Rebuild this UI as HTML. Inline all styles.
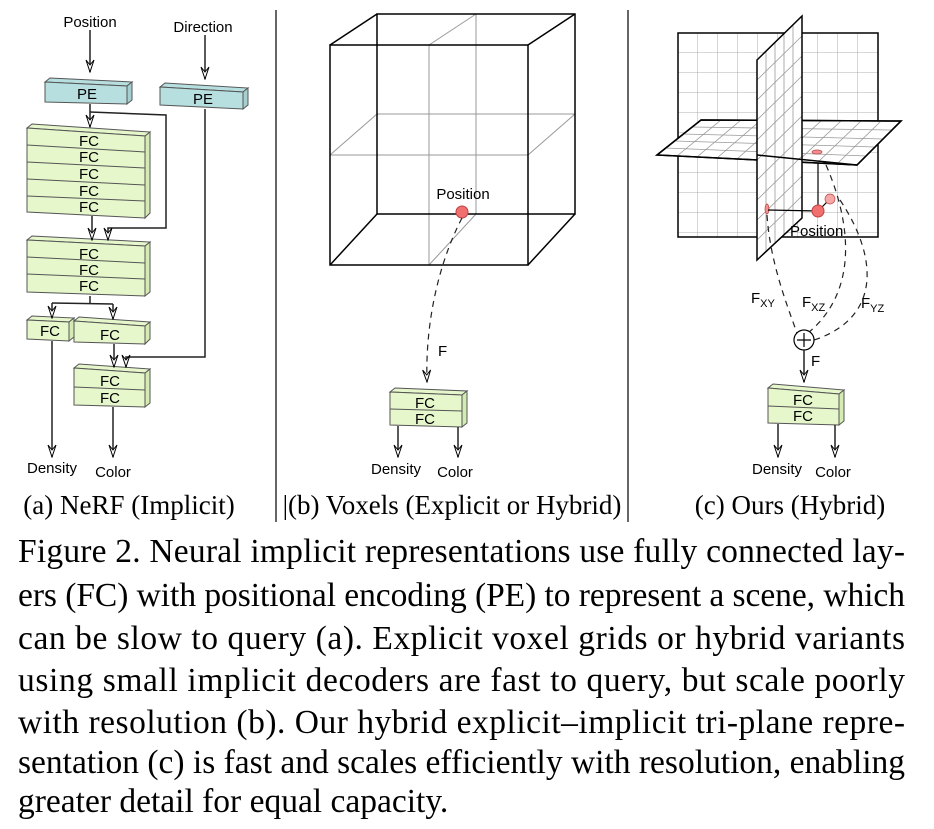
<!DOCTYPE html>
<html><head><meta charset="utf-8"><style>
html,body{margin:0;padding:0;background:#fff;}
svg{display:block;}
text{font-family:"Liberation Sans",sans-serif;}
.s{font-family:"Liberation Serif",serif;}
</style></head><body>
<svg width="934" height="829" viewBox="0 0 934 829" xmlns="http://www.w3.org/2000/svg">
<defs>
<marker id="ar" markerWidth="14" markerHeight="10" refX="13" refY="5" orient="auto" markerUnits="userSpaceOnUse">
<path d="M1,1 L13,5 L1,9 L6,5 Z" fill="#fff" stroke="#000" stroke-width="1"/>
</marker>
<pattern id="g" width="20" height="20" patternUnits="userSpaceOnUse" x="678" y="33">
<path d="M20,0 V20 M0,20 H20" stroke="#999" stroke-width="0.8" fill="none"/>
</pattern>
</defs>
<g fill="none" stroke="#000" stroke-width="1.5">
<line x1="276" y1="10" x2="276" y2="522" stroke-width="1.2"/>
<line x1="628" y1="10" x2="628" y2="522" stroke-width="1.2"/>
</g>

<!-- ===== Panel (a) ===== -->
<g stroke="#555" stroke-width="1">
<polygon points="45,82 50,78 132,82 127,86" fill="#b8dfe0"/>
<polygon points="127,86 132,82 132,100 127,104" fill="#a6cfd0"/>
<polygon points="45,82 127,86 127,104 45,102" fill="#b8dfe0"/>
<polygon points="160,87 165,83 248,88 243,92" fill="#b8dfe0"/>
<polygon points="243,92 248,88 248,105 243,109" fill="#a6cfd0"/>
<polygon points="160,87 243,92 243,109 160,105" fill="#b8dfe0"/>
<polygon points="27,128 32,124 150,132 145,136" fill="#e6f7cc"/>
<polygon points="145,136 150,132 150,213 145,218" fill="#d4ebb4"/>
<polygon points="27,128 145,136 145,218 27,212" fill="#e6f7cc"/>
<path d="M27,145 L145,152 M27,162 L145,168 M27,179 L145,185 M27,196 L145,201" />
<polygon points="27,240 32,236 150,242 145,246" fill="#e6f7cc"/>
<polygon points="145,246 150,242 150,292 145,296" fill="#d4ebb4"/>
<polygon points="27,240 145,246 145,296 27,292" fill="#e6f7cc"/>
<path d="M27,257 L145,263 M27,274 L145,279"/>
<polygon points="27,320 32,316 74,318 69,322" fill="#e6f7cc"/>
<polygon points="69,322 74,318 74,337 69,341" fill="#d4ebb4"/>
<polygon points="27,320 69,322 69,341 27,339" fill="#e6f7cc"/>
<polygon points="74,321 79,317 150,322 145,326" fill="#e6f7cc"/>
<polygon points="145,326 150,322 150,339 145,344" fill="#d4ebb4"/>
<polygon points="74,321 145,326 145,344 74,342" fill="#e6f7cc"/>
<polygon points="74,368 79,364 150,369 145,373" fill="#e6f7cc"/>
<polygon points="145,373 150,369 150,403 145,407" fill="#d4ebb4"/>
<polygon points="74,368 145,373 145,407 74,405" fill="#e6f7cc"/>
<path d="M74,387 L145,390"/>
</g>
<g font-size="15" text-anchor="middle" fill="#000">
<text x="87" y="99">PE</text>
<text x="203" y="104">PE</text>
<text x="89" y="146">FC</text><text x="89" y="162">FC</text><text x="89" y="179">FC</text><text x="89" y="196">FC</text><text x="89" y="212">FC</text>
<text x="89" y="259">FC</text><text x="89" y="275">FC</text><text x="89" y="291">FC</text>
<text x="50" y="336">FC</text><text x="110" y="340">FC</text>
<text x="110" y="386">FC</text><text x="110" y="403">FC</text>
<text x="90" y="27">Position</text>
<text x="203" y="32">Direction</text>
<text x="52" y="473">Density</text>
<text x="113" y="477">Color</text>
</g>
<g fill="none" stroke="#222" stroke-width="1.5">
<line x1="90" y1="30" x2="90" y2="72" marker-end="url(#ar)"/>
<line x1="205" y1="35" x2="205" y2="79" marker-end="url(#ar)"/>
<line x1="90" y1="104" x2="90" y2="127" marker-end="url(#ar)"/>
<polyline points="90,112 166,115 166,228 108,228 108,240" marker-end="url(#ar)"/>
<line x1="92" y1="216" x2="92" y2="240" marker-end="url(#ar)"/>
<polyline points="90,296 90,303"/>
<polyline points="52,303 113,304"/>
<line x1="52" y1="303" x2="52" y2="318" marker-end="url(#ar)"/>
<line x1="113" y1="304" x2="113" y2="319" marker-end="url(#ar)"/>
<line x1="52" y1="341" x2="52" y2="457" marker-end="url(#ar)"/>
<line x1="114" y1="344" x2="114" y2="367" marker-end="url(#ar)"/>
<polyline points="205,109 205,357 126,357 126,367" marker-end="url(#ar)"/>
<line x1="113" y1="407" x2="113" y2="457" marker-end="url(#ar)"/>
</g>

<!-- ===== Panel (b) ===== -->
<g fill="none" stroke="#999" stroke-width="1">
<line x1="429" y1="45" x2="429" y2="265"/><line x1="330" y1="155" x2="528" y2="155"/>
<line x1="476" y1="14" x2="476" y2="214"/><line x1="377" y1="114" x2="575" y2="114"/>
<line x1="429" y1="45" x2="476" y2="14"/><line x1="429" y1="265" x2="476" y2="214"/>
<line x1="330" y1="155" x2="377" y2="114"/><line x1="528" y1="155" x2="575" y2="114"/>
</g>
<g fill="none" stroke="#000" stroke-width="1.5">
<rect x="377" y="14" width="198" height="200"/>
<rect x="330" y="45" width="198" height="220"/>
<line x1="330" y1="45" x2="377" y2="14"/><line x1="528" y1="45" x2="575" y2="14"/>
<line x1="330" y1="265" x2="377" y2="214"/><line x1="528" y1="265" x2="575" y2="214"/>
</g>
<circle cx="462" cy="212" r="6" fill="#f07070" stroke="#c04040"/>
<text x="463" y="199" font-size="15" text-anchor="middle">Position</text>
<path d="M462,218 C440,260 425,320 427,382" fill="none" stroke="#222" stroke-width="1.2" stroke-dasharray="6,5" marker-end="url(#ar)"/>
<text x="438" y="356" font-size="15">F</text>
<g stroke="#555" stroke-width="1">
<polygon points="390,392 395,388 467,391 462,395" fill="#e6f7cc"/>
<polygon points="462,395 467,391 467,423 462,427" fill="#d4ebb4"/>
<polygon points="390,392 462,395 462,427 390,425" fill="#e6f7cc"/>
<path d="M390,409 L462,411"/>
</g>
<g font-size="15" text-anchor="middle"><text x="425" y="408">FC</text><text x="425" y="424">FC</text>
<text x="396" y="474">Density</text><text x="455" y="477">Color</text></g>
<g stroke="#222" stroke-width="1.5"><line x1="398" y1="426" x2="398" y2="457" marker-end="url(#ar)"/><line x1="458" y1="427" x2="458" y2="457" marker-end="url(#ar)"/></g>

<!-- ===== Panel (c) ===== -->
<rect x="678" y="33" width="200" height="204" fill="url(#g)" stroke="#000" stroke-width="1.5"/>
<polygon points="657,155 701,120 901,121 857,165" fill="#fff" stroke="#000" stroke-width="1.5"/>
<g stroke="#999" stroke-width="0.8">
<line x1="677" y1="156" x2="721" y2="120"/><line x1="697" y1="157" x2="741" y2="120"/><line x1="717" y1="158" x2="761" y2="120"/><line x1="737" y1="159" x2="781" y2="120"/><line x1="757" y1="160" x2="801" y2="120"/><line x1="777" y1="161" x2="821" y2="121"/><line x1="797" y1="162" x2="841" y2="121"/><line x1="817" y1="163" x2="861" y2="121"/><line x1="837" y1="164" x2="881" y2="121"/>
<line x1="666" y1="148" x2="866" y2="156"/><line x1="675" y1="141" x2="875" y2="147"/><line x1="683" y1="134" x2="883" y2="139"/><line x1="692" y1="127" x2="892" y2="130"/>
</g>
<polygon points="657,155 701,120 901,121 857,165" fill="none" stroke="#000" stroke-width="1.5"/>
<polygon points="757,60 802,16 802,218 757,260" fill="#fff"/>
<g stroke="#999" stroke-width="0.8">
<line x1="766" y1="51" x2="766" y2="252"/><line x1="775" y1="42" x2="775" y2="243"/><line x1="784" y1="34" x2="784" y2="235"/><line x1="793" y1="25" x2="793" y2="226"/>
<line x1="757" y1="80" x2="802" y2="36"/><line x1="757" y1="100" x2="802" y2="56"/><line x1="757" y1="120" x2="802" y2="76"/><line x1="757" y1="140" x2="802" y2="96"/><line x1="757" y1="160" x2="802" y2="116"/><line x1="757" y1="180" x2="802" y2="136"/><line x1="757" y1="200" x2="802" y2="156"/><line x1="757" y1="220" x2="802" y2="176"/><line x1="757" y1="240" x2="802" y2="196"/>
</g>
<polygon points="757,60 802,16 802,218 757,260" fill="none" stroke="#000" stroke-width="1.5"/>
<line x1="757" y1="155" x2="857" y2="165" stroke="#000" stroke-width="1.5"/>
<ellipse cx="817" cy="152" rx="5" ry="2" fill="#f09090" stroke="#c04040" stroke-width="0.7"/>
<ellipse cx="767" cy="209" rx="2" ry="5" fill="#f09090" stroke="#c04040" stroke-width="0.7"/>
<line x1="818" y1="163" x2="818" y2="211" stroke="#000" stroke-width="1.2"/>
<line x1="768" y1="210" x2="818" y2="211" stroke="#000" stroke-width="1.2"/>
<line x1="818" y1="211" x2="829" y2="200" stroke="#000" stroke-width="1.2"/>
<circle cx="830" cy="199" r="5" fill="#f4a8a8" stroke="#c04040" stroke-width="0.7"/>
<circle cx="818" cy="211" r="6" fill="#f07070" stroke="#c04040"/>
<text x="790" y="236" font-size="15">Position</text>
<g fill="none" stroke="#222" stroke-width="1.2" stroke-dasharray="6,5">
<path d="M767,215 C770,260 785,300 797,333"/>
<path d="M826,165 C850,220 860,290 808,333"/>
<path d="M840,200 C880,260 880,320 811,341"/>
</g>
<circle cx="804" cy="340" r="10" fill="#fff" stroke="#000" stroke-width="1.2"/>
<path d="M797,340 H811 M804,333 V347" stroke="#000" stroke-width="1.2"/>
<line x1="804" y1="350" x2="804" y2="382" stroke="#222" stroke-width="1.5" marker-end="url(#ar)"/>
<text x="811" y="366" font-size="15">F</text>
<text x="751" y="303" font-size="15">F<tspan font-size="11" dy="4">XY</tspan></text>
<text x="802" y="307" font-size="15">F<tspan font-size="11" dy="4">XZ</tspan></text>
<text x="861" y="308" font-size="15">F<tspan font-size="11" dy="4">YZ</tspan></text>
<g stroke="#555" stroke-width="1">
<polygon points="768,388 773,384 844,390 839,394" fill="#e6f7cc"/>
<polygon points="839,394 844,390 844,421 839,425" fill="#d4ebb4"/>
<polygon points="768,388 839,394 839,425 768,423" fill="#e6f7cc"/>
<path d="M768,406 L839,409"/>
</g>
<g font-size="15" text-anchor="middle"><text x="803" y="405">FC</text><text x="803" y="421">FC</text>
<text x="777" y="474">Density</text><text x="833" y="477">Color</text></g>
<g stroke="#222" stroke-width="1.5"><line x1="778" y1="424" x2="778" y2="457" marker-end="url(#ar)"/><line x1="835" y1="425" x2="835" y2="457" marker-end="url(#ar)"/></g>

<!-- sub captions -->
<g font-size="27" text-anchor="middle" fill="#000">
<text class="s" x="129" y="514">(a) NeRF (Implicit)</text>
<text class="s" x="452" y="514">|(b) Voxels (Explicit or Hybrid)</text>
<text class="s" x="790" y="514">(c) Ours (Hybrid)</text>
</g>

<!-- caption -->
<g font-size="33.5" fill="#000">
<text class="s" x="18" y="562" textLength="887" lengthAdjust="spacing">Figure 2. Neural implicit representations use fully connected lay-</text>
<text class="s" x="18" y="606" textLength="887" lengthAdjust="spacing">ers (FC) with positional encoding (PE) to represent a scene, which</text>
<text class="s" x="18" y="649" textLength="887" lengthAdjust="spacing">can be slow to query (a).  Explicit voxel grids or hybrid variants</text>
<text class="s" x="18" y="691" textLength="887" lengthAdjust="spacing">using small implicit decoders are fast to query, but scale poorly</text>
<text class="s" x="18" y="733" textLength="887" lengthAdjust="spacing">with resolution (b).  Our hybrid explicit–implicit tri-plane repre-</text>
<text class="s" x="18" y="773" textLength="887" lengthAdjust="spacing">sentation (c) is fast and scales efficiently with resolution, enabling</text>
<text class="s" x="18" y="812">greater detail for equal capacity.</text>
</g>
</svg>
</body></html>
